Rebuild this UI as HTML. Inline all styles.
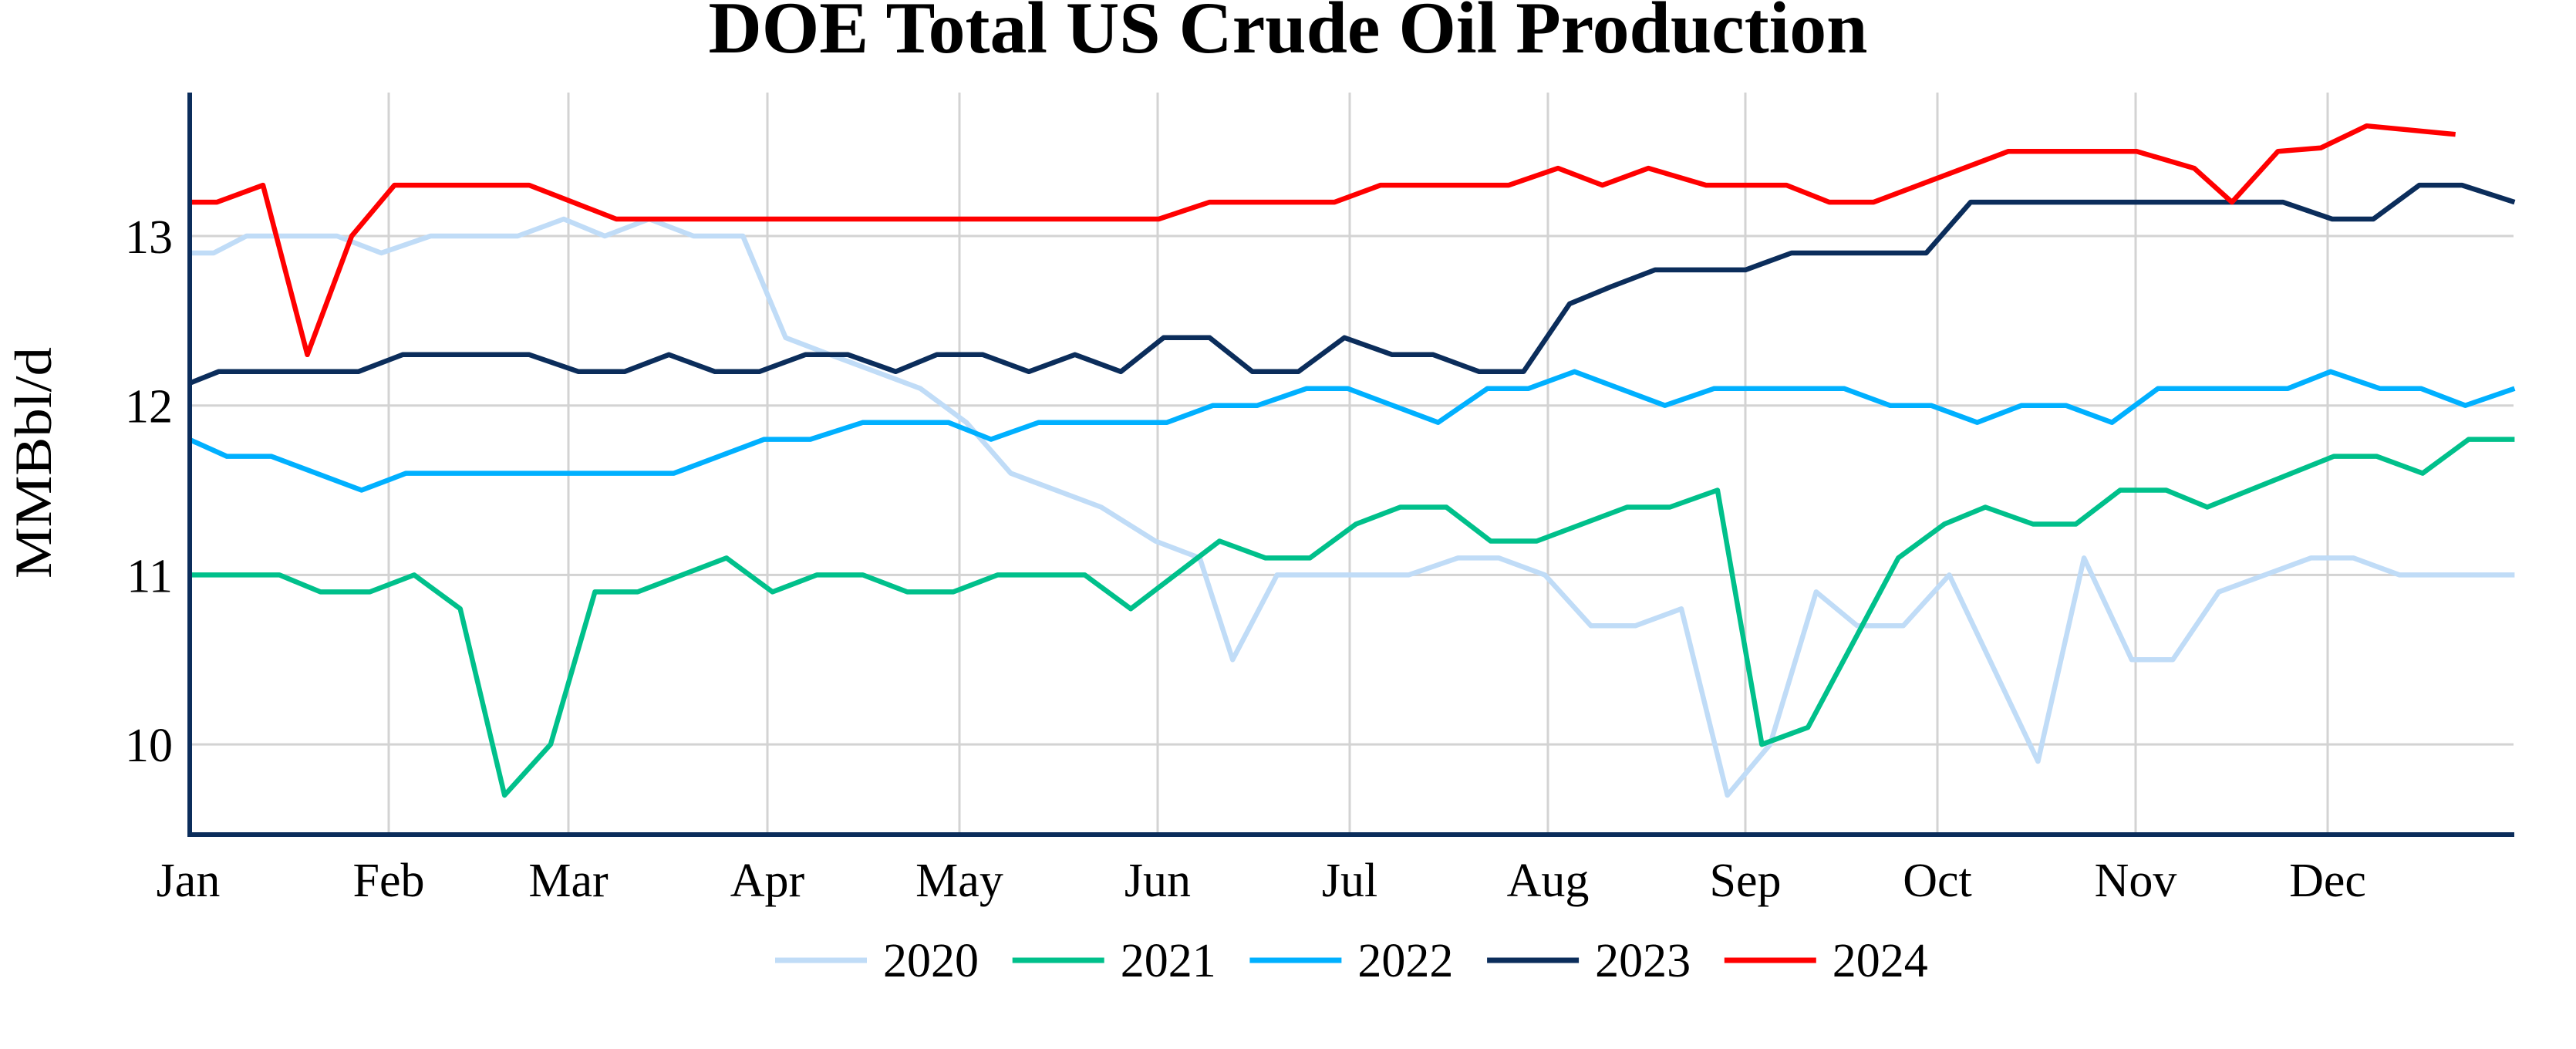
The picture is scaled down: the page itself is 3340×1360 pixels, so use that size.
<!DOCTYPE html>
<html><head><meta charset="utf-8"><style>
html,body{margin:0;padding:0;background:#fff}
svg{display:block}
text{font-family:"Liberation Serif",serif;fill:#000}
</style></head><body>
<svg id="s" width="3340" height="1360" viewBox="0 0 3340 1360" xmlns="http://www.w3.org/2000/svg">
<rect width="3340" height="1360" fill="#fff"/>
<g id="grid" stroke="#d3d3d3" stroke-width="3"></g>
<g id="series" fill="none" stroke-width="6.5" stroke-linejoin="round"></g>
<line x1="246" y1="120" x2="246" y2="1082" stroke="#0b2d5b" stroke-width="6"/>
<line x1="243" y1="1082" x2="3260" y2="1082" stroke="#0b2d5b" stroke-width="6"/>
<text x="1670" y="68" text-anchor="middle" font-size="95" font-weight="bold" textLength="1503" lengthAdjust="spacingAndGlyphs">DOE Total US Crude Oil Production</text>
<text transform="translate(66,600) rotate(-90)" text-anchor="middle" font-size="68" textLength="300" lengthAdjust="spacingAndGlyphs">MMBbl/d</text>
<g id="labels" font-size="62"></g>
<g id="legend" font-size="62"></g>
</svg>
<script>
var NS="http://www.w3.org/2000/svg",s=document.getElementById('s');
function el(p,t,a,txt){var e=document.createElementNS(NS,t);for(var k in a)e.setAttribute(k,a[k]);if(txt)e.textContent=txt;p.appendChild(e);return e;}
function Y(v){return 306+(13-v)*219.7;}
function X(o){return o*2.131;}
var g=document.getElementById('grid'),lb=document.getElementById('labels');
[13,12,11,10].forEach(function(v){el(g,'line',{x1:244,x2:3259,y1:Y(v),y2:Y(v)});el(lb,'text',{x:224,y:Y(v)+22,'text-anchor':'end'},String(v));});
var months=[['Jan',244],['Feb',504],['Mar',737],['Apr',995],['May',1244],['Jun',1501],['Jul',1750],['Aug',2007],['Sep',2263],['Oct',2512],['Nov',2769],['Dec',3018]];
months.forEach(function(m,i){if(i>0)el(g,'line',{x1:m[1],x2:m[1],y1:120,y2:1082});el(lb,'text',{x:m[1],y:1162,'text-anchor':'middle'},m[0]);});
var D={
'#c0dcf7':[[115,12.9],[130,12.9],[150,13.0],[205,13.0],[232,12.9],[262,13.0],[315,13.0],[343,13.1],[368,13.0],[395,13.1],[422,13.0],[452,13.0],[478,12.4],[505,12.3],[560,12.1],[588,11.9],[615,11.6],[670,11.4],[703,11.2],[730,11.1],[750,10.5],[777,11.0],[857,11.0],[887,11.1],[912,11.1],[940,11.0],[968,10.7],[995,10.7],[1023,10.8],[1051,9.7],[1077,10.0],[1105,10.9],[1130,10.7],[1158,10.7],[1186,11.0],[1240,9.9],[1268,11.1],[1297,10.5],[1322,10.5],[1350,10.9],[1406,11.1],[1432,11.1],[1460,11.0],[1530,11.0]],
'#00c08b':[[115,11.0],[170,11.0],[195,10.9],[225,10.9],[252,11.0],[280,10.8],[307,9.7],[335,10.0],[362,10.9],[388,10.9],[442,11.1],[470,10.9],[497,11.0],[525,11.0],[552,10.9],[580,10.9],[607,11.0],[660,11.0],[688,10.8],[742,11.2],[770,11.1],[797,11.1],[825,11.3],[852,11.4],[880,11.4],[907,11.2],[935,11.2],[990,11.4],[1016,11.4],[1045,11.5],[1072,10.0],[1100,10.1],[1155,11.1],[1183,11.3],[1208,11.4],[1237,11.3],[1263,11.3],[1290,11.5],[1318,11.5],[1343,11.4],[1420,11.7],[1446,11.7],[1474,11.6],[1502,11.8],[1530,11.8]],
'#00b0ff':[[115,11.8],[138,11.7],[165,11.7],[220,11.5],[247,11.6],[410,11.6],[465,11.8],[493,11.8],[525,11.9],[577,11.9],[603,11.8],[632,11.9],[710,11.9],[738,12.0],[765,12.0],[795,12.1],[820,12.1],[875,11.9],[905,12.1],[930,12.1],[958,12.2],[1013,12.0],[1043,12.1],[1122,12.1],[1150,12.0],[1175,12.0],[1203,11.9],[1230,12.0],[1257,12.0],[1285,11.9],[1313,12.1],[1392,12.1],[1418,12.2],[1448,12.1],[1473,12.1],[1500,12.0],[1530,12.1]],
'#0b2d5b':[[115,12.13],[133,12.2],[218,12.2],[245,12.3],[322,12.3],[352,12.2],[380,12.2],[407,12.3],[435,12.2],[462,12.2],[490,12.3],[516,12.3],[545,12.2],[570,12.3],[598,12.3],[626,12.2],[654,12.3],[682,12.2],[708,12.4],[736,12.4],[762,12.2],[790,12.2],[818,12.4],[847,12.3],[872,12.3],[900,12.2],[927,12.2],[955,12.6],[980,12.7],[1007,12.8],[1062,12.8],[1090,12.9],[1172,12.9],[1199,13.2],[1389,13.2],[1419,13.1],[1444,13.1],[1472,13.3],[1498,13.3],[1530,13.2]],
'#ff0000':[[115,13.2],[132,13.2],[160,13.3],[187,12.3],[214,13.0],[240,13.3],[322,13.3],[375,13.1],[705,13.1],[736,13.2],[812,13.2],[840,13.3],[918,13.3],[948,13.4],[975,13.3],[1003,13.4],[1038,13.3],[1087,13.3],[1113,13.2],[1140,13.2],[1222,13.5],[1300,13.5],[1335,13.4],[1358,13.2],[1386,13.5],[1412,13.52],[1440,13.65],[1494,13.6]]};
var sg=document.getElementById('series');
for(var c in D){el(sg,'polyline',{stroke:c,points:D[c].map(function(p){return X(p[0]).toFixed(1)+','+Y(p[1]).toFixed(1);}).join(' ')});}
var lg=document.getElementById('legend'),names=['2020','2021','2022','2023','2024'],cols=Object.keys(D);
for(var i=0;i<5;i++){var x0=1005+i*307.7;el(lg,'line',{x1:x0,x2:x0+119,y1:1245,y2:1245,stroke:cols[i],'stroke-width':7});el(lg,'text',{x:x0+140,y:1266},names[i]);}
</script>
</body></html>
